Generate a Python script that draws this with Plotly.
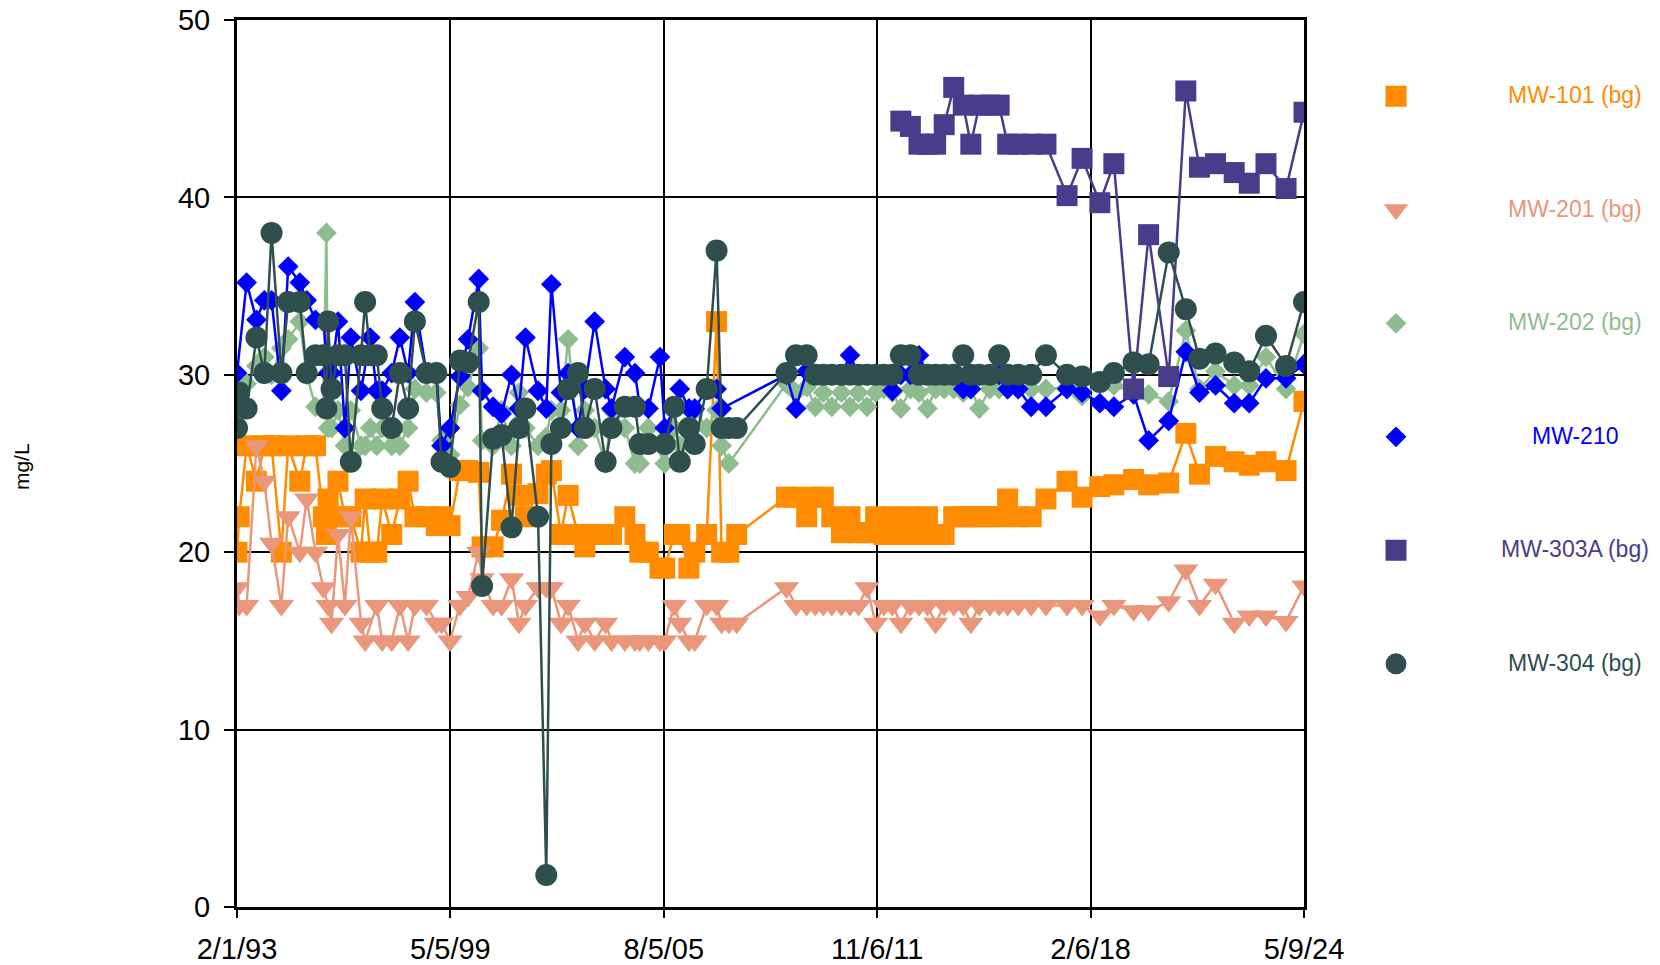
import plotly.graph_objects as go

# ---------------- data ----------------
dates = [
    "1993-02-01", "1993-02-25", "1993-05-15", "1993-08-28", "1993-11-20",
    "1994-02-06", "1994-05-22", "1994-08-03", "1994-12-05", "1995-02-17",
    "1995-05-22", "1995-08-14", "1995-09-16", "1995-10-04", "1995-11-10",
    "1996-01-18", "1996-04-01", "1996-06-03", "1996-09-20", "1996-11-03",
    "1996-12-28", "1997-03-08", "1997-05-05", "1997-08-15", "1997-11-10",
    "1998-02-06", "1998-04-20", "1998-08-22", "1998-12-05", "1999-01-30",
    "1999-05-01", "1999-08-15", "1999-11-10", "2000-03-03", "2000-04-08",
    "2000-08-04", "2000-11-03", "2001-02-17", "2001-05-08", "2001-07-16",
    "2001-11-28", "2002-02-24", "2002-04-20", "2002-07-31", "2002-10-16",
    "2003-01-30", "2003-04-13", "2003-07-27", "2003-11-21", "2004-01-23",
    "2004-06-14", "2004-10-01", "2004-11-21", "2005-02-21", "2005-06-25",
    "2005-08-15", "2005-11-25", "2006-01-23", "2006-05-01", "2006-07-02",
    "2006-11-07", "2007-02-21", "2007-04-16", "2007-07-02", "2007-09-24",
    "2009-03-10", "2009-06-20", "2009-10-12", "2010-01-12", "2010-04-08",
    "2010-07-08", "2010-10-19", "2011-01-19", "2011-04-20", "2011-07-20",
    "2011-10-20", "2012-01-15", "2012-04-16", "2012-07-16", "2012-10-26",
    "2013-01-26", "2013-04-27", "2013-07-23", "2013-10-23", "2014-02-02",
    "2014-05-15", "2014-08-04", "2014-11-03", "2015-02-24", "2015-06-03",
    "2015-09-02", "2015-12-24", "2016-05-11", "2016-10-16", "2017-05-30",
    "2017-11-07", "2018-05-16", "2018-10-13", "2019-05-12", "2019-10-20",
    "2020-05-22", "2020-11-21", "2021-04-16", "2021-10-05", "2022-04-23",
    "2022-10-01", "2023-03-29", "2023-10-30", "2024-05-09",
]

mw101 = [
    20.0, 22.0, 26.0, 24.0, 26.0,
    26.0, 20.0, 26.0, 24.0, 26.0,
    26.0, 22.0, 21.0, 23.0, 22.0,
    24.0, 22.0, 22.0, 20.0, 23.0,
    20.0, 20.0, 23.0, 21.0, 23.0,
    24.0, 22.0, 22.0, 21.5, 22.0,
    21.5, 24.6, 24.6, 24.5, 20.3,
    20.3, 21.8, 24.4, 23.2, 22.0,
    23.3, 24.4, 24.6, 21.0, 23.2,
    21.0, 20.3, 21.0, 21.0, 21.0,
    22.0, 21.0, 20.0, 20.0, 19.1,
    19.1, 21.0, 21.0, 19.1, 20.0,
    21.0, 33.0, 20.0, 20.0, 21.0,
    23.1, 23.1, 22.0, 23.1, 23.1,
    22.0, 21.1, 22.0, 21.1, 21.1,
    22.0, 21.0, 22.0, 21.0, 22.0,
    21.0, 22.0, 21.0, 21.0, 22.0,
    22.0, 22.0, 22.0, 22.0, 22.0,
    23.0, 22.0, 22.0, 23.0, 24.0,
    23.1, 23.7, 23.8, 24.1, 23.8,
    23.9, 26.7, 24.4, 25.4, 25.1,
    24.9, 25.1, 24.6, 28.5,
]

mw201 = [
    18.0, 17.0, 17.0, 26.0, 24.0,
    20.5, 17.0, 22.0, 20.0, 23.0,
    20.0, 18.0, None, 17.0, 16.0,
    21.0, 17.0, 22.0, 16.0, 15.0,
    None, 17.0, 15.0, 15.0, 17.0,
    15.0, 17.0, 17.0, 16.0, 16.0,
    15.0, 17.0, 17.5, 20.0, 18.5,
    17.0, 17.0, 18.5, 16.0, 17.0,
    18.0, 18.0, 18.0, 16.0, 17.0,
    15.0, 16.0, 15.0, 16.0, 15.0,
    15.0, 15.0, 15.0, 15.0, 15.0,
    15.0, 17.0, 16.0, 15.0, 15.0,
    17.0, 17.0, 16.0, 16.0, 16.0,
    18.0, 17.0, 17.0, 17.0, 17.0,
    17.0, 17.0, 17.0, 17.0, 18.0,
    16.0, 17.0, 17.0, 16.0, 17.0,
    17.0, 17.0, 16.0, 17.0, 17.0,
    17.0, 16.0, 17.0, 17.0, 17.0,
    17.0, 17.0, 17.0, 17.0, 17.0,
    17.0, 16.4, 17.0, 16.7, 16.7,
    17.2, 19.0, 17.0, 18.2, 16.0,
    16.4, 16.4, 16.1, 18.1,
]

mw202 = [
    28.0, None, 29.5, 30.5, 31.0,
    30.0, 31.5, 32.0, 33.0, 30.0,
    28.2, 28.2, 38.0, 27.0, 27.0,
    28.0, 26.0, 28.0, 26.0, 26.0,
    27.0, 26.0, 27.0, 26.0, 26.0,
    27.0, 29.2, 29.0, 29.0, 26.3,
    25.5, 28.3, 29.3, 31.5, 26.3,
    26.0, 28.0, 26.0, 29.0, 27.0,
    26.0, 26.5, 28.0, 28.0, 32.0,
    26.0, 28.0, 27.0, 25.0, 28.0,
    27.0, 25.0, 25.0, 27.0, None,
    25.0, 27.0, 26.0, 27.0, 28.0,
    27.0, 28.0, 26.0, 25.0, None,
    29.5, 29.0, 29.3, 28.2, 29.0,
    28.2, 29.0, 28.2, 29.0, 28.2,
    29.0, 29.2, 29.0, 28.1, 29.2,
    29.0, 28.1, 29.2, 29.2, 29.2,
    29.0, 29.2, 28.1, 29.2, 29.2,
    29.2, 29.2, 29.2, 29.2, 29.3,
    28.8, 29.5, 29.4, 29.0, 28.9,
    28.5, 32.5, 29.2, 30.2, 29.4,
    29.4, 31.0, 29.2, 32.3,
]

mw210 = [
    30.1, None, 35.2, 33.1, 34.2,
    34.2, 29.1, 36.1, 35.2, 34.2,
    33.1, 33.0, None, 30.1, 30.1,
    33.0, 27.0, 32.1, 29.1, None,
    32.1, 29.1, 29.1, 30.1, 32.1,
    30.1, 34.1, 30.1, 30.1, 26.0,
    27.0, 29.9, 32.0, 35.4, 29.1,
    28.2, 27.8, 30.0, 28.1, 32.1,
    29.1, 28.1, 35.1, 29.0, 30.1,
    27.0, 29.2, 33.0, 29.2, 28.1,
    31.0, 30.1, 28.2, 28.1, 31.0,
    27.0, 28.1, 29.2, 28.1, 28.1,
    29.2, 29.2, 28.1, None, None,
    30.0, 28.1, 30.2, 30.0, 30.0,
    30.0, 30.0, 31.1, 30.0, 30.0,
    30.0, 30.0, 29.1, 30.0, 30.0,
    31.1, 30.0, 30.0, 30.0, 30.0,
    29.2, 29.2, 30.0, 30.0, 30.0,
    29.2, 29.2, 28.2, 28.2, 29.2,
    29.0, 28.4, 28.2, 28.9, 26.3,
    27.4, 31.3, 29.0, 29.4, 28.4,
    28.4, 29.8, 29.8, 30.6,
]

mw304 = [
    27.0, 29.0, 28.1, 32.1, 30.1,
    38.0, 30.1, 34.1, 34.1, 30.1,
    31.1, 31.1, 28.1, 33.0, 29.2,
    31.1, 31.1, 25.1, 31.1, 34.1,
    31.1, 31.1, 28.1, 27.0, 30.1,
    28.1, 33.0, 30.1, 30.1, 25.1,
    24.8, 30.8, 30.7, 34.1, 18.1,
    26.4, 26.6, 21.4, 27.0, 28.1,
    22.0, 1.8, 26.1, 27.0, 29.2,
    30.1, 27.0, 29.2, 25.1, 27.0,
    28.2, 28.2, 26.1, 26.1, None,
    26.1, 28.2, 25.1, 27.0, 26.1,
    29.2, 37.0, 27.0, 27.0, 27.0,
    30.1, 31.1, 31.1, 30.0, 30.0,
    30.0, 30.0, 30.0, 30.0, 30.0,
    30.0, 30.0, 30.0, 31.1, 31.1,
    30.0, 30.0, 30.0, 30.0, 30.0,
    31.1, 30.0, 30.0, 30.0, 31.1,
    30.0, 30.0, 30.0, 31.1, 30.0,
    29.9, 29.6, 30.1, 30.7, 30.6,
    36.9, 33.7, 30.9, 31.2, 30.7,
    30.2, 32.2, 30.5, 34.1,
]

mw303a_dates = [
    "2012-07-16", "2012-10-26", "2013-01-26", "2013-04-27", "2013-07-23",
    "2013-10-23", "2014-02-02", "2014-05-15", "2014-08-04", "2014-11-03",
    "2015-02-24", "2015-06-03", "2015-09-02", "2015-12-24", "2016-05-11",
    "2016-10-16", "2017-05-30", "2017-11-07", "2018-05-16", "2018-10-13",
    "2019-05-12", "2019-10-20", "2020-05-22", "2020-11-21", "2021-04-16",
    "2021-10-05", "2022-04-23", "2022-10-01", "2023-03-29", "2023-10-30",
    "2024-05-09",
]
mw303a = [
    44.3, 44.0, 43.0, 43.0, 43.0,
    44.1, 46.2, 45.2, 43.0, 45.2,
    45.2, 45.2, 43.0, 43.0, 43.0,
    43.0, 40.1, 42.2, 39.7, 41.9,
    29.2, 37.9, 29.9, 46.0, 41.7,
    41.9, 41.4, 40.8, 41.9, 40.5,
    44.8,
]

series_names = ["MW-101 (bg)", "MW-201 (bg)", "MW-202 (bg)", "MW-210", "MW-303A (bg)", "MW-304 (bg)"]
tick_dates = ["1993-02-01", "1999-05-05", "2005-08-05", "2011-11-06", "2018-02-06", "2024-05-09"]
tick_labels = ["2/1/93", "5/5/99", "8/5/05", "11/6/11", "2/6/18", "5/9/24"]
y_ticks = [0, 10, 20, 30, 40, 50]

# ---------------- styles ----------------
FONT = "Liberation Sans, Arial, sans-serif"
styles = [
    dict(x=dates, y=mw101, color="#FF8C00", symbol="square", size=21, lw=5),
    dict(x=dates, y=mw201, color="#E9967A", symbol="triangle-down", size=22, lw=3),
    dict(x=dates, y=mw202, color="#8FBC8F", symbol="diamond", size=16, lw=0),
    dict(x=dates, y=mw210, color="#0000FF", symbol="diamond", size=16, lw=0),
    dict(x=mw303a_dates, y=mw303a, color="#483D8B", symbol="square", size=21, lw=5),
    dict(x=dates, y=mw304, color="#2F4F4F", symbol="circle", size=22, lw=5),
]

W, H = 1652, 957
ML, MR, MT, MB = 229, 356, 12, 58
plot_w = W - ML - MR
plot_h = H - MT - MB

fig = go.Figure()
for name, s in zip(series_names, styles):
    fig.add_trace(go.Scatter(
        x=s["x"], y=s["y"], mode="lines+markers", name=name,
        connectgaps=True, showlegend=False,
        line=dict(color=s["color"], width=2.5),
        marker=dict(color=s["color"], symbol=s["symbol"], size=s["size"], line=dict(width=0)),
        hoverinfo="x+y+name",
    ))

# legend symbols (marker only); the coloured labels are centred annotations
leg_top_px = 87.0      # centre of first legend row, px from top of figure
leg_step_px = 113.6    # spacing between legend rows
leg_text_x_px = 1567.0
annotations = []
for i, (name, s) in enumerate(zip(series_names, styles)):
    fig.add_trace(go.Scatter(
        x=[None], y=[None], mode="markers", name=" ",
        legendgroup=name, showlegend=True, hoverinfo="skip",
        marker=dict(color=s["color"], symbol=s["symbol"], size=s["size"],
                    line=dict(width=s["lw"], color=s["color"])),
    ))
    cy = leg_top_px + i * leg_step_px
    annotations.append(dict(
        text=name, xref="paper", yref="paper",
        x=(leg_text_x_px - ML) / plot_w, y=1 - (cy - MT) / plot_h,
        xanchor="center", yanchor="middle", showarrow=False,
        font=dict(family=FONT, size=23, color=s["color"]),
    ))

annotations.append(dict(
    text="mg/L", xref="paper", yref="paper", x=(13 - ML) / plot_w, y=0.496,
    xanchor="center", yanchor="middle", textangle=-90, showarrow=False,
    font=dict(family=FONT, size=21, color="black")))

axis_common = dict(
    showgrid=True, gridcolor="black", gridwidth=2,
    showline=True, linecolor="black", linewidth=3, mirror=True,
    ticks="outside", tickcolor="black", tickwidth=2,
    zeroline=False, ticklabeloverflow="allow",
    tickfont=dict(family=FONT, size=29, color="black"),
)

fig.update_layout(
    width=W, height=H,
    paper_bgcolor="white", plot_bgcolor="white",
    margin=dict(l=ML, r=MR, t=MT, b=MB, autoexpand=False),
    font=dict(family=FONT, color="black"),
    xaxis=dict(type="date", range=["1993-02-01", "2024-05-09"],
               tickmode="array", tickvals=tick_dates, ticktext=tick_labels,
               ticklen=8, ticklabelstandoff=6, **axis_common),
    yaxis=dict(range=[0, 50], tickmode="array", tickvals=y_ticks,
               ticklen=10, ticklabelstandoff=8, **axis_common),
    legend=dict(x=(1279 - ML) / plot_w, xanchor="left",
                y=1 - (leg_top_px - 20.1 - MT) / plot_h, yanchor="top",
                itemwidth=208, tracegroupgap=80.6, valign="middle",
                font=dict(family=FONT, size=23),
                bgcolor="rgba(0,0,0,0)", borderwidth=0,
                itemclick=False, itemdoubleclick=False),
    annotations=annotations,
)

fig.write_html("out.html")
